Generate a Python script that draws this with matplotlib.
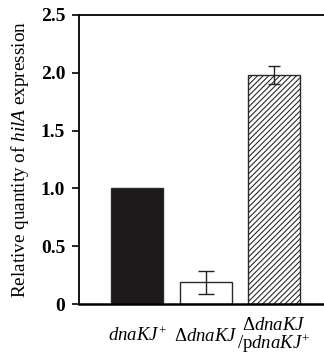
import numpy as np
import matplotlib
matplotlib.use('Agg')
import matplotlib.pyplot as plt

plt.rcParams['font.family'] = ['Liberation Serif', 'DejaVu Serif']
plt.rcParams['mathtext.fontset'] = 'custom'
plt.rcParams['mathtext.rm'] = 'Liberation Serif'
plt.rcParams['mathtext.it'] = 'Liberation Serif:italic'
plt.rcParams['mathtext.bf'] = 'Liberation Serif:bold'
plt.rcParams['hatch.linewidth'] = 0.8

# data
strains = [r'$\mathit{dnaKJ}^{+}$', r'$\Delta\mathit{dnaKJ}$',
           '$\\Delta\\mathit{dnaKJ}$\n$/\\mathrm{p}\\mathit{dnaKJ}^{+}$']
values = [1.0, 0.19, 1.98]
errors = [0.0, 0.10, 0.08]
yticks = [0, 0.5, 1.0, 1.5, 2.0, 2.5]
ytick_labels = ['0', '0.5', '1.0', '1.5', '2.0', '2.5']

fig = plt.figure(figsize=(3.24, 3.54), dpi=100)
ax = fig.add_axes([0.244, 0.141, 0.756, 0.817])

x = np.arange(len(values))
face = ['#1c1a1b', 'white', 'white']
hatch = ['', '', '//////']
caps = [0, 6, 4.3]
for i in range(len(values)):
    ax.bar(x[i], values[i], width=0.76, color=face[i], edgecolor='#2a2a2a',
           linewidth=1.0, hatch=hatch[i])
    if errors[i] > 0:
        ax.errorbar(x[i], values[i], yerr=errors[i], fmt='none', ecolor='#222222',
                    elinewidth=1.0, capsize=caps[i], capthick=1.0)

ax.set_xlim(-0.85, 2.73)
ax.set_ylim(0, 2.5)
ax.set_yticks(yticks)
ax.set_yticklabels(ytick_labels, fontsize=14, fontweight='bold')
ax.set_xticks(x)
ax.set_xticklabels(strains, fontsize=13.5, linespacing=0.9, va='center')
ax.tick_params(axis='x', length=0, pad=23)
ax.tick_params(axis='y', direction='out', length=5, width=1.2, pad=5)
ax.set_ylabel(r'Relative quantity of $\mathit{hilA}$ expression', fontsize=13.8, labelpad=7)

ax.spines['right'].set_visible(False)
ax.spines['left'].set_linewidth(1.3)
ax.spines['bottom'].set_linewidth(1.8)
ax.spines['top'].set_linewidth(1.3)

fig.savefig('out.png', dpi=100)
